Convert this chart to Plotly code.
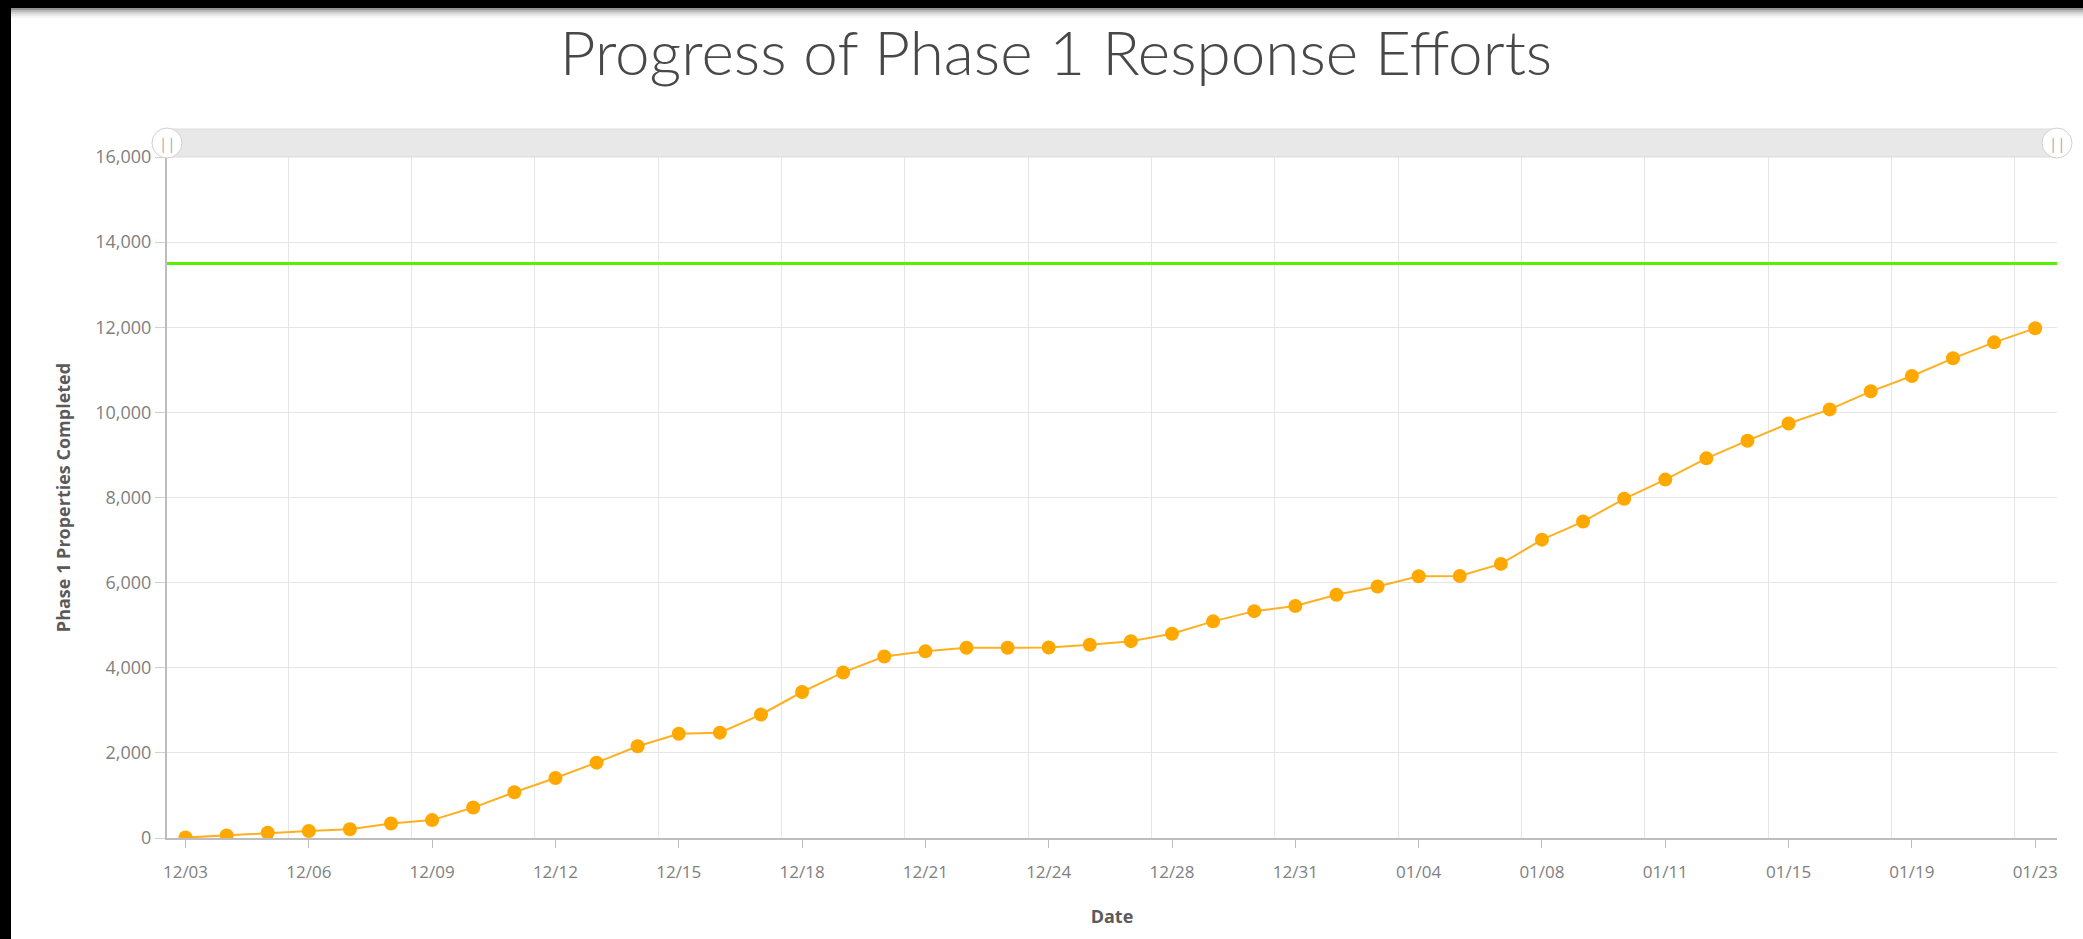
import plotly.graph_objects as go

# ---------------- data ----------------
dates = ["12/03", "12/04", "12/05", "12/06", "12/07", "12/08", "12/09", "12/10", "12/11",
         "12/12", "12/13", "12/14", "12/15", "12/16", "12/17", "12/18", "12/19", "12/20",
         "12/21", "12/22", "12/23", "12/24", "12/26", "12/27", "12/28", "12/29", "12/30",
         "12/31", "01/02", "01/03", "01/04", "01/05", "01/07", "01/08", "01/09", "01/10",
         "01/11", "01/12", "01/14", "01/15", "01/16", "01/18", "01/19", "01/21", "01/22",
         "01/23"]
completed = [10, 60, 125, 165, 205, 340, 420, 715, 1075,
             1410, 1770, 2155, 2450, 2475, 2900, 3430, 3890, 4265,
             4385, 4470, 4470, 4475, 4540, 4625, 4800, 5090, 5330,
             5450, 5715, 5910, 6150, 6155, 6440, 7010, 7435, 7970,
             8420, 8920, 9335, 9740, 10070, 10495, 10855, 11270, 11645,
             11975]
target = 13500
y_ticks = [0, 2000, 4000, 6000, 8000, 10000, 12000, 14000, 16000]
label_step = 3

# ---------------- layout geometry ----------------
W, H = 2083, 939
ML, MR, MT, MB = 167, 26, 157, 101
PW, PH = W - ML - MR, H - MT - MB


def px(xp):
    return (xp - ML) / PW


def py(yp):
    return (H - MB - yp) / PH


idx = list(range(len(dates)))
tick_idx = idx[::label_step]
tick_txt = dates[::label_step]
grid_idx = [i - 0.5 for i in tick_idx[1:]]

fig = go.Figure()
fig.add_trace(go.Scatter(
    x=idx, y=completed, mode="lines+markers",
    line=dict(color="#ffb01f", width=2),
    marker=dict(color="#ffa800", size=14),
    text=dates, hovertemplate="%{text}: %{y:,}<extra></extra>",
    showlegend=False,
))

shapes = []
# black frame: left strip and top strip
shapes.append(dict(type="rect", xref="paper", yref="paper", x0=px(0), x1=px(11), y0=py(H), y1=py(0),
                   fillcolor="black", line=dict(width=0), layer="above"))
shapes.append(dict(type="rect", xref="paper", yref="paper", x0=px(0), x1=px(W), y0=py(8), y1=py(0),
                   fillcolor="black", line=dict(width=0), layer="above"))
# shadow under top bar
for k, op in enumerate([0.42, 0.28, 0.17, 0.09, 0.04]):
    shapes.append(dict(type="rect", xref="paper", yref="paper", x0=px(11), x1=px(W),
                       y0=py(8 + 2 * (k + 1)), y1=py(8 + 2 * k),
                       fillcolor=f"rgba(0,0,0,{op})", line=dict(width=0), layer="above"))
# scrollbar
shapes.append(dict(type="rect", xref="paper", yref="paper", x0=px(ML), x1=px(W - MR), y0=py(157), y1=py(129),
                   fillcolor="#e8e8e8", line=dict(color="#dcdcdc", width=1), layer="above"))
for cx in (ML, W - MR):
    shapes.append(dict(type="circle", xref="paper", yref="paper", x0=px(cx - 15), x1=px(cx + 15),
                       y0=py(158), y1=py(128), fillcolor="white",
                       line=dict(color="#d0d0d0", width=1), layer="above"))

annotations = []
for cx in (ML, W - MR):
    annotations.append(dict(xref="paper", yref="paper", x=px(cx), y=py(143), text="||",
                            showarrow=False, font=dict(family="Open Sans, sans-serif", size=15, color="#a8a8a8"),
                            xanchor="center", yanchor="middle"))

fig.update_layout(
    width=W, height=H,
    margin=dict(l=ML, r=MR, t=MT, b=MB),
    paper_bgcolor="white", plot_bgcolor="white",
    title=dict(text="Progress of Phase 1 Response Efforts", xref="container", x=1056 / W,
               y=1 - 53 / H, xanchor="center", yanchor="middle",
               font=dict(family="Lato, sans-serif", size=62, color="#484848", weight=300)),
    font=dict(family="Open Sans, sans-serif", color="#808080"),
    shapes=shapes, annotations=annotations,
    xaxis=dict(
        range=[-0.45, len(dates) - 0.47], tickmode="array", tickvals=tick_idx, ticktext=tick_txt,
        showgrid=False, zeroline=False, showline=True, linecolor="#bdbdbd", linewidth=2,
        ticks="outside", ticklen=8, tickcolor="#bdbdbd", tickwidth=1, ticklabelstandoff=10,
        tickfont=dict(family="Open Sans, sans-serif", size=17, color="#808080"),
        title=dict(text="<b>Date</b>", font=dict(family="Open Sans, sans-serif", size=18, color="#5a5a5a"),
                   standoff=28),
        minor=dict(tickmode="array", tickvals=grid_idx, showgrid=True, gridcolor="#e6e6e6",
                   gridwidth=1, ticks=""),
        fixedrange=True,
    ),
    yaxis=dict(
        range=[0, 16000], tickmode="array", tickvals=y_ticks, tickformat=",",
        showgrid=True, gridcolor="#e6e6e6", gridwidth=1, zeroline=False,
        showline=True, linecolor="#bdbdbd", linewidth=2,
        ticks="outside", ticklen=10, tickcolor="#d0d0d0",
        tickfont=dict(family="Open Sans, sans-serif", size=18, color="#808080"),
        title=dict(text="<b>Phase 1 Properties Completed</b>",
                   font=dict(family="Open Sans, sans-serif", size=18, color="#5a5a5a"),
                   standoff=20),
        fixedrange=True,
    ),
)

# target line (added after the layout shapes so it is appended, not merged)
fig.add_hline(y=target, line=dict(color="#58f000", width=3), layer="above")

fig.write_html("out.html", config={"displayModeBar": False},
               post_script="document.body.style.margin='0';document.body.style.overflow='hidden';")
